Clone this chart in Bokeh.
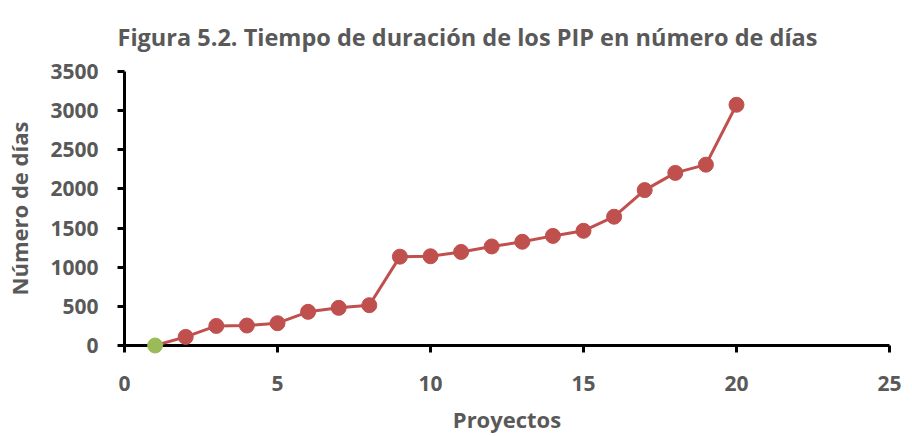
from bokeh.plotting import figure
from bokeh.models import ColumnDataSource, Range1d, FixedTicker, Title
from bokeh.embed import file_html
from bokeh.resources import INLINE

proyectos = list(range(1, 21))
dias = [0, 110, 250, 255, 285, 430, 481, 515, 1135, 1140, 1195, 1265,
        1325, 1400, 1465, 1645, 1985, 2205, 2310, 3075]
x_ticks = [0, 5, 10, 15, 20, 25]
y_ticks = [0, 500, 1000, 1500, 2000, 2500, 3000, 3500]
titulo = "Figura 5.2. Tiempo de duración de los PIP en número de días"

RED = "#C0504D"
GREEN = "#9BBB59"
GRAY = "#595959"
FONT = "Open Sans"

colors = [GREEN] + [RED] * (len(proyectos) - 1)
src = ColumnDataSource(dict(x=proyectos, y=dias, c=colors))

p = figure(width=912, height=436, output_backend="svg", toolbar_location=None,
           x_range=Range1d(0, 25), y_range=Range1d(0, 3500),
           min_border_left=124, min_border_right=23, min_border_top=50,
           min_border_bottom=89)

t = Title(text=titulo, align="left", offset=-7, text_font=FONT,
          text_font_size="23.5px", text_font_style="bold", text_color=GRAY,
          standoff=37)
p.add_layout(t, "above")

p.line("x", "y", source=src, line_color=RED, line_width=3, level="overlay")
p.scatter("x", "y", source=src, size=15, fill_color="c", line_color="c",
          level="overlay")

p.grid.visible = False
p.outline_line_color = None

for ax in (p.xaxis[0], p.yaxis[0]):
    ax.axis_line_color = "black"
    ax.axis_line_width = 3
    ax.major_tick_line_color = "black"
    ax.major_tick_line_width = 3
    ax.major_tick_out = 7
    ax.major_tick_in = 0
    ax.minor_tick_line_color = None
    ax.major_label_text_font = FONT
    ax.major_label_text_font_size = "21px"
    ax.major_label_text_font_style = "bold"
    ax.major_label_text_color = GRAY
    ax.axis_label_text_font = FONT
    ax.axis_label_text_font_size = "22px"
    ax.axis_label_text_font_style = "bold"
    ax.axis_label_text_color = GRAY

p.xaxis[0].ticker = FixedTicker(ticks=x_ticks)
p.yaxis[0].ticker = FixedTicker(ticks=y_ticks)
p.xaxis[0].axis_label = "Proyectos"
p.yaxis[0].axis_label = "Número de días"
p.xaxis[0].major_label_standoff = 23
p.xaxis[0].axis_label_standoff = 10
p.yaxis[0].major_label_standoff = 19
p.yaxis[0].axis_label_standoff = 13

open("out.html", "w").write(file_html(p, INLINE))
